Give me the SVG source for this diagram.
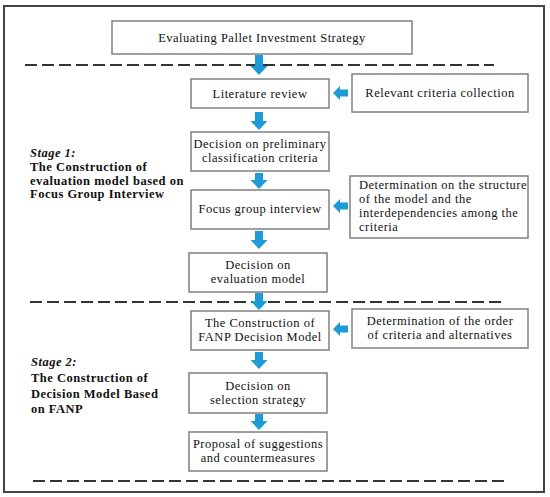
<svg xmlns="http://www.w3.org/2000/svg" width="550" height="497" viewBox="0 0 550 497">
<style>
.frame{fill:#fff;stroke:#444;stroke-width:2}
.box{fill:#fff;stroke:#808080;stroke-width:1.5}
.dash{stroke:#333;stroke-width:2;stroke-dasharray:12 5;fill:none}
.arr{fill:#1e9ad6}
text{font-family:'Liberation Serif',Tinos,'Times New Roman','DejaVu Serif',serif;font-size:12.5px;fill:#111;letter-spacing:0.5px}
.c{text-anchor:middle}
.st{font-weight:bold}
.si{font-weight:bold;font-style:italic}
</style>
<rect class="frame" x="4" y="6" width="540" height="486"/>
<g id="separators">
<line class="dash" x1="25" y1="65" x2="494" y2="65"/>
<line class="dash" x1="30" y1="302" x2="501" y2="302"/>
<line class="dash" x1="33" y1="481" x2="504" y2="481"/>
</g>
<g id="stage1">
<text x="30" y="157" class="si">Stage 1:</text>
<text x="30" y="171" class="st">The Construction of</text>
<text x="30" y="184.5" class="st">evaluation model based on</text>
<text x="30" y="198" class="st">Focus Group Interview</text>
</g>
<g id="stage2">
<text x="31" y="366" class="si">Stage 2:</text>
<text x="31" y="382" class="st">The Construction of</text>
<text x="31" y="397.5" class="st">Decision Model Based</text>
<text x="31" y="413" class="st">on FANP</text>
</g>
<g id="connectors">
<path class="arr" d="M255 55H263V66H267.5L259 75L250.5 66H255Z"/>
<path class="arr" d="M255 112H263V121H267.5L259 130L250.5 121H255Z"/>
<path class="arr" d="M255 173H263V180H267.5L259 189L250.5 180H255Z"/>
<path class="arr" d="M255 231H263V240H267.5L259 249L250.5 240H255Z"/>
<path class="arr" d="M255 293H263V301H267.5L259 310L250.5 301H255Z"/>
<path class="arr" d="M255 352H263V360H267.5L259 369L250.5 360H255Z"/>
<path class="arr" d="M255 414H263V421H267.5L259 430L250.5 421H255Z"/>
<path class="arr" d="M348 89.5V96.5H340V100L333 93L340 86V89.5Z"/>
<path class="arr" d="M348 202.5V209.5H340V213L333 206L340 199V202.5Z"/>
<path class="arr" d="M348 325.5V332.5H340V336L333 329L340 322V325.5Z"/>
</g>
<g id="n-top">
<rect class="box" x="112" y="21" width="300" height="33"/>
<text class="c" x="262" y="42">Evaluating Pallet Investment Strategy</text>
</g>
<g id="n-literature">
<rect class="box" x="191" y="79" width="138" height="29"/>
<text class="c" x="260" y="98">Literature review</text>
</g>
<g id="n-relevant">
<rect class="box" x="352" y="74" width="176" height="38"/>
<text class="c" x="440" y="97">Relevant criteria collection</text>
</g>
<g id="n-preliminary">
<rect class="box" x="191" y="132" width="138" height="39"/>
<text class="c" x="260" y="148">Decision on preliminary</text>
<text class="c" x="260" y="162">classification criteria</text>
</g>
<g id="n-focus">
<rect class="box" x="191" y="190" width="138" height="39"/>
<text class="c" x="260" y="213">Focus group interview</text>
</g>
<g id="n-structure">
<rect class="box" x="350" y="176" width="178" height="62"/>
<text x="359" y="189">Determination on the structure</text>
<text x="359" y="203">of the model and the</text>
<text x="359" y="217">interdependencies among the</text>
<text x="359" y="231">criteria</text>
</g>
<g id="n-evaluation">
<rect class="box" x="189" y="253" width="138" height="39"/>
<text class="c" x="258" y="269">Decision on</text>
<text class="c" x="258" y="283">evaluation model</text>
</g>
<g id="n-fanp">
<rect class="box" x="191" y="311" width="138" height="39"/>
<text class="c" x="260" y="327">The Construction of</text>
<text class="c" x="260" y="341">FANP Decision Model</text>
</g>
<g id="n-order">
<rect class="box" x="352" y="309" width="176" height="39"/>
<text class="c" x="440" y="325">Determination of the order</text>
<text class="c" x="440" y="339">of criteria and alternatives</text>
</g>
<g id="n-selection">
<rect class="box" x="189" y="373" width="138" height="40"/>
<text class="c" x="258" y="390">Decision on</text>
<text class="c" x="258" y="404">selection strategy</text>
</g>
<g id="n-proposal">
<rect class="box" x="189" y="432" width="138" height="39"/>
<text class="c" x="258" y="448">Proposal of suggestions</text>
<text class="c" x="258" y="462">and countermeasures</text>
</g>
</svg>
